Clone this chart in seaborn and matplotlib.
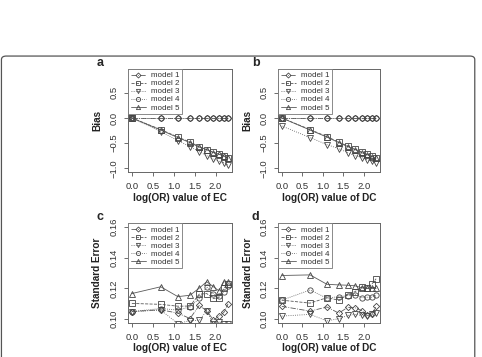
import numpy as np
import matplotlib
matplotlib.use('Agg')
import matplotlib.pyplot as plt
import seaborn as sns
from matplotlib.patches import FancyBboxPatch

# x values: log(OR) for OR = 1..10
log_or = [0.0, 0.69, 1.10, 1.39, 1.61, 1.79, 1.95, 2.08, 2.20, 2.30]
model_names = ['model 1', 'model 2', 'model 3', 'model 4', 'model 5']

# panel a: bias, EC
bias_ec_m1 = [0.0, 0.0, 0.0, 0.0, 0.0, 0.0, 0.0, 0.0, 0.0, 0.0]
bias_ec_m2 = [0.0, -0.23, -0.38, -0.48, -0.57, -0.63, -0.68, -0.72, -0.75, -0.79]
bias_ec_m3 = [0.0, -0.27, -0.45, -0.57, -0.67, -0.75, -0.82, -0.86, -0.89, -0.94]
bias_ec_m4 = [0.0, 0.0, 0.0, 0.0, 0.0, 0.0, 0.0, 0.0, 0.0, 0.0]
bias_ec_m5 = [0.0, -0.24, -0.39, -0.49, -0.58, -0.63, -0.69, -0.72, -0.76, -0.80]

# panel b: bias, DC
bias_dc_m1 = [0.0, 0.0, 0.0, 0.0, 0.0, 0.0, 0.0, 0.0, 0.0, 0.0]
bias_dc_m2 = [0.0, -0.23, -0.37, -0.48, -0.56, -0.62, -0.68, -0.72, -0.76, -0.79]
bias_dc_m3 = [-0.16, -0.39, -0.53, -0.61, -0.69, -0.75, -0.79, -0.83, -0.86, -0.89]
bias_dc_m4 = [0.0, 0.0, 0.0, 0.0, 0.0, 0.0, 0.0, 0.0, 0.0, 0.0]
bias_dc_m5 = [0.0, -0.24, -0.38, -0.49, -0.57, -0.63, -0.69, -0.73, -0.77, -0.80]

# panel c: standard error, EC
se_ec_m1 = [0.1050, 0.1062, 0.1040, 0.1005, 0.1090, 0.1055, 0.0995, 0.1020, 0.1045, 0.1100]
se_ec_m2 = [0.1103, 0.1097, 0.1085, 0.1086, 0.1163, 0.1167, 0.1135, 0.1140, 0.1202, 0.1229]
se_ec_m3 = [0.1050, 0.1060, 0.0972, 0.0992, 0.0993, 0.1055, 0.0970, 0.0985, 0.0970, 0.0972]
se_ec_m4 = [0.1050, 0.1070, 0.1060, 0.1080, 0.1135, 0.1210, 0.1165, 0.1150, 0.1180, 0.1215]
se_ec_m5 = [0.1167, 0.1211, 0.1147, 0.1156, 0.1202, 0.1244, 0.1211, 0.1185, 0.1244, 0.1240]

# panel d: standard error, DC
se_dc_m1 = [0.1084, 0.1053, 0.1080, 0.1040, 0.1078, 0.1074, 0.1057, 0.1025, 0.1036, 0.1084]
se_dc_m2 = [0.1124, 0.1105, 0.1140, 0.1124, 0.1160, 0.1180, 0.1210, 0.1200, 0.1230, 0.1263]
se_dc_m3 = [0.1021, 0.1032, 0.0990, 0.1004, 0.1025, 0.1032, 0.1025, 0.1021, 0.1032, 0.1042]
se_dc_m4 = [0.1124, 0.1190, 0.1137, 0.1147, 0.1154, 0.1160, 0.1140, 0.1143, 0.1143, 0.1158]
se_dc_m5 = [0.1284, 0.1288, 0.1227, 0.1223, 0.1221, 0.1217, 0.1204, 0.1200, 0.1200, 0.1200]

markers = ['D', 's', 'v', 'o', '^']
linestyles = ['-.', '--', ':', (0, (1, 1.5)), '-']
line_col = '#5a5a5a'

sns.set_style('ticks')
plt.rcParams['font.family'] = ['Liberation Sans', 'DejaVu Sans']

fig = plt.figure(figsize=(4.82, 3.57), dpi=100)

# outer rounded frame
frame = FancyBboxPatch((0.003, -0.2), 0.982, 1.043, transform=fig.transFigure,
                       boxstyle='round,pad=0,rounding_size=0.01',
                       fc='none', ec='#555555', lw=0.9)
fig.patches.append(frame)

panels = [
    ('a', [0.2656, 0.518, 0.2158, 0.289],
     [bias_ec_m1, bias_ec_m2, bias_ec_m3, bias_ec_m4, bias_ec_m5], 'Bias', 'log(OR) value of EC'),
    ('b', [0.5768, 0.518, 0.2116, 0.289],
     [bias_dc_m1, bias_dc_m2, bias_dc_m3, bias_dc_m4, bias_dc_m5], 'Bias', 'log(OR) value of DC'),
    ('c', [0.2656, 0.0952, 0.2158, 0.280],
     [se_ec_m1, se_ec_m2, se_ec_m3, se_ec_m4, se_ec_m5], 'Standard Error', 'log(OR) value of EC'),
    ('d', [0.5768, 0.0952, 0.2116, 0.280],
     [se_dc_m1, se_dc_m2, se_dc_m3, se_dc_m4, se_dc_m5], 'Standard Error', 'log(OR) value of DC'),
]

for letter, rect, series, ylab, xlab in panels:
    ax = fig.add_axes(rect)
    for name, vals, mk, ls in zip(model_names, series, markers, linestyles):
        sns.lineplot(x=log_or, y=vals, ax=ax, color=line_col, linestyle=ls, lw=0.6,
                     marker=mk, markersize=3.8 if mk != 'D' else 3.2,
                     markerfacecolor='none', markeredgecolor='#444444',
                     markeredgewidth=0.6, label=name, sort=False)
    ax.set_xlim(-0.092, 2.395)
    ax.set_xticks([0.0, 0.5, 1.0, 1.5, 2.0])
    ax.set_xticklabels(['0.0', '0.5', '1.0', '1.5', '2.0'])
    if ylab == 'Bias':
        ax.set_ylim(-1.076, 0.976)
        ax.set_yticks([-1.0, -0.5, 0.0, 0.5])
        ax.set_yticklabels(['\u22121.0', '\u22120.5', '0.0', '0.5'])
    else:
        ax.set_ylim(0.0976, 0.1624)
        ax.set_yticks([0.10, 0.12, 0.14, 0.16])
        ax.set_yticklabels(['0.10', '0.12', '0.14', '0.16'])
    for sp in ax.spines.values():
        sp.set_visible(True)
        sp.set_color('#666666')
        sp.set_linewidth(0.7)
    ax.tick_params(axis='both', length=3, width=0.6, color='#555555',
                   labelsize=6.8, labelcolor='#333333')
    ax.tick_params(axis='x', pad=4)
    ax.tick_params(axis='y', pad=4)
    for lab in ax.get_yticklabels():
        lab.set_rotation(90)
        lab.set_va('center')
    ax.set_ylabel(ylab, fontsize=7.2, fontweight='bold', color='#222222')
    ax.yaxis.set_label_coords(-0.25, 0.5)
    ax.set_xlabel(xlab, fontsize=7.2, fontweight='bold', color='#222222')
    ax.xaxis.set_label_coords(0.5, -0.2)
    ax.text(-0.27 if letter in 'ac' else -0.22, 1.06, letter, transform=ax.transAxes,
            fontsize=9, fontweight='bold', ha='center', va='center')
    leg = ax.legend(loc='upper left', borderaxespad=0, fontsize=5.8, fancybox=False,
                    frameon=True, edgecolor='#777777', framealpha=1,
                    handlelength=1.9, handletextpad=0.6, labelspacing=0.05,
                    borderpad=0.35, markerscale=0.8)
    leg.get_frame().set_linewidth(0.6)
    for t in leg.get_texts():
        t.set_color('#333333')

fig.savefig('out.png', dpi=100)
